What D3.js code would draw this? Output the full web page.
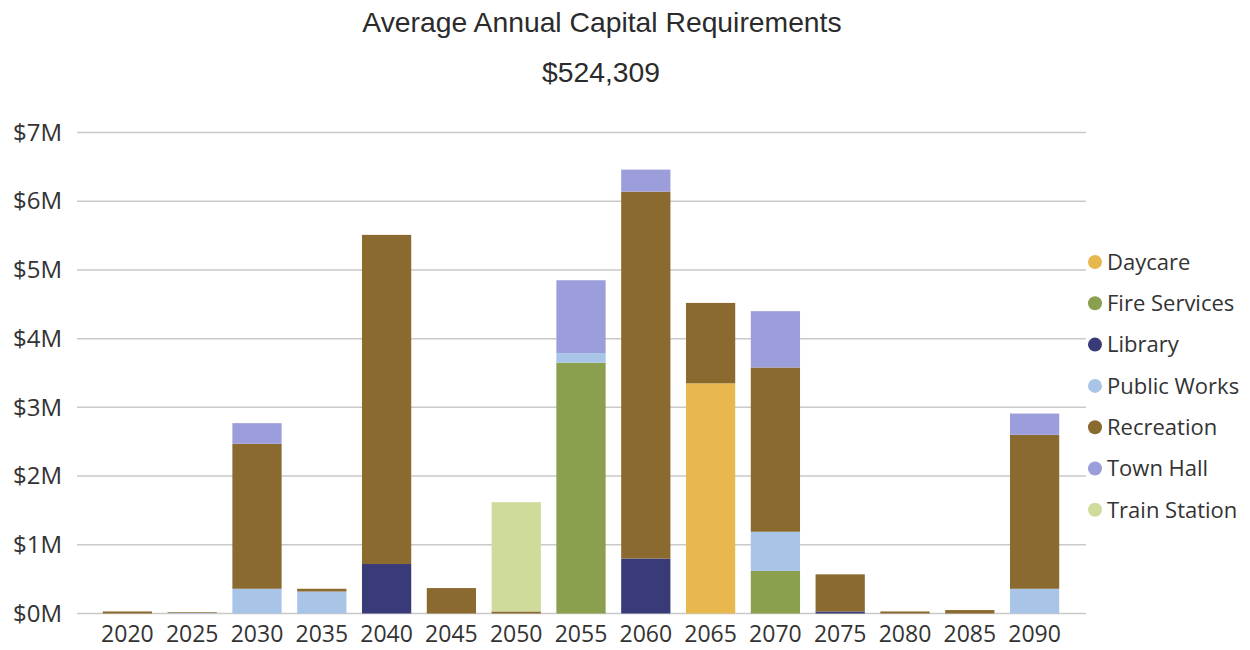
<!DOCTYPE html>
<html>
<head>
<meta charset="utf-8">
<script src="https://cdn.jsdelivr.net/npm/d3@7"></script>
<style>
  html, body { margin: 0; padding: 0; background: #ffffff; }
  svg { display: block; }
</style>
</head>
<body>
<svg id="chart" width="1250" height="650"></svg>
<script>
// ---- data ----
const years = ["2020","2025","2030","2035","2040","2045","2050","2055","2060","2065","2070","2075","2080","2085","2090"];
const seriesNames = ["Daycare","Fire Services","Library","Public Works","Recreation","Town Hall","Train Station"];
const seriesColors = ["#E8B84E","#8BA04E","#393A78","#A8C4E6","#8B6A30","#9C9EDC","#CFDB9A"];
// values in $M
const daycare      = [0,0,0,0,0,0,0,0,0,3.35,0,0,0,0,0];
const fireServices = [0,0,0,0,0,0,0,3.65,0,0,0.62,0,0,0,0];
const library      = [0,0,0,0,0.72,0,0,0,0.80,0,0,0.03,0,0,0];
const publicWorks  = [0,0.01,0.36,0.32,0,0,0,0.14,0,0,0.57,0,0,0,0.36];
const recreation   = [0.03,0.01,2.11,0.04,4.79,0.37,0.03,0,5.34,1.17,2.39,0.54,0.03,0.05,2.24];
const townHall     = [0,0,0.30,0,0,0,0,1.06,0.32,0,0.82,0,0,0,0.31];
const trainStation = [0,0,0,0,0,0,1.59,0,0,0,0,0,0,0,0];
const yTicks = [0,1,2,3,4,5,6,7];
const yTickLabels = ["$0M","$1M","$2M","$3M","$4M","$5M","$6M","$7M"];
const titleText = "Average Annual Capital Requirements";
const subtitleText = "$524,309";

// ---- build table ----
const seriesValues = [daycare, fireServices, library, publicWorks, recreation, townHall, trainStation];
const table = years.map((y, i) => {
  const row = { year: y };
  seriesNames.forEach((s, k) => row[s] = seriesValues[k][i]);
  return row;
});

const svg = d3.select("#chart");
const x = d3.scaleBand().domain(years).range([95, 1067]).paddingInner(0.24).paddingOuter(0.12);
const y = d3.scaleLinear().domain([0, 7]).range([613.5, 132.5]);
const color = d3.scaleOrdinal().domain(seriesNames).range(seriesColors);

// gridlines
const gridLeft = 77, gridRight = 1086;
svg.append("g").selectAll("line").data(yTicks).join("line")
  .attr("x1", gridLeft).attr("x2", gridRight)
  .attr("y1", d => y(d)).attr("y2", d => y(d))
  .attr("stroke", "#c9c9c9").attr("stroke-width", 1.5);

// y axis labels
const yAxis = d3.axisLeft(y).tickValues(yTicks).tickFormat((d, i) => yTickLabels[i]).tickSize(0).tickPadding(0);
const yg = svg.append("g").attr("transform", `translate(62,0)`).call(yAxis);
yg.select(".domain").remove();
yg.selectAll("text").attr("font-family", "'Open Sans', sans-serif").attr("font-size", 24).attr("fill", "#333");

// stacked bars
const stack = d3.stack().keys(seriesNames);
const layers = stack(table);
svg.append("g").selectAll("g").data(layers).join("g")
  .attr("fill", d => color(d.key))
  .selectAll("rect").data(d => d).join("rect")
  .attr("x", d => x(d.data.year))
  .attr("width", x.bandwidth())
  .attr("y", d => y(d[1]))
  .attr("height", d => Math.max(0, y(d[0]) - y(d[1])));

// x axis
const xAxis = d3.axisBottom(x).tickSize(0).tickPadding(0);
const xg = svg.append("g").attr("transform", `translate(0,${y(0)})`).call(xAxis);
xg.select(".domain").remove();
xg.selectAll("text").attr("font-family", "'Open Sans', sans-serif").attr("font-size", 23).attr("fill", "#333")
  .attr("dy", "1.25em");

// title
svg.append("text").attr("x", 602).attr("y", 32).attr("text-anchor", "middle")
  .attr("font-family", "'Liberation Sans', Arial, sans-serif").attr("font-size", 28.3).attr("fill", "#2b2b2b")
  .text(titleText);
svg.append("text").attr("x", 601).attr("y", 82).attr("text-anchor", "middle")
  .attr("font-family", "'Liberation Sans', Arial, sans-serif").attr("font-size", 28.3).attr("fill", "#2b2b2b")
  .text(subtitleText);

// legend
const legend = svg.append("g").selectAll("g").data(seriesNames).join("g")
  .attr("transform", (d, i) => `translate(1095,${262 + i * 41.3})`);
legend.append("circle").attr("r", 7).attr("fill", d => color(d));
legend.append("text").attr("x", 12).attr("dy", "0.35em")
  .attr("font-family", "'Open Sans', sans-serif").attr("font-size", 22).attr("fill", "#333")
  .text(d => d);
</script>
</body>
</html>
